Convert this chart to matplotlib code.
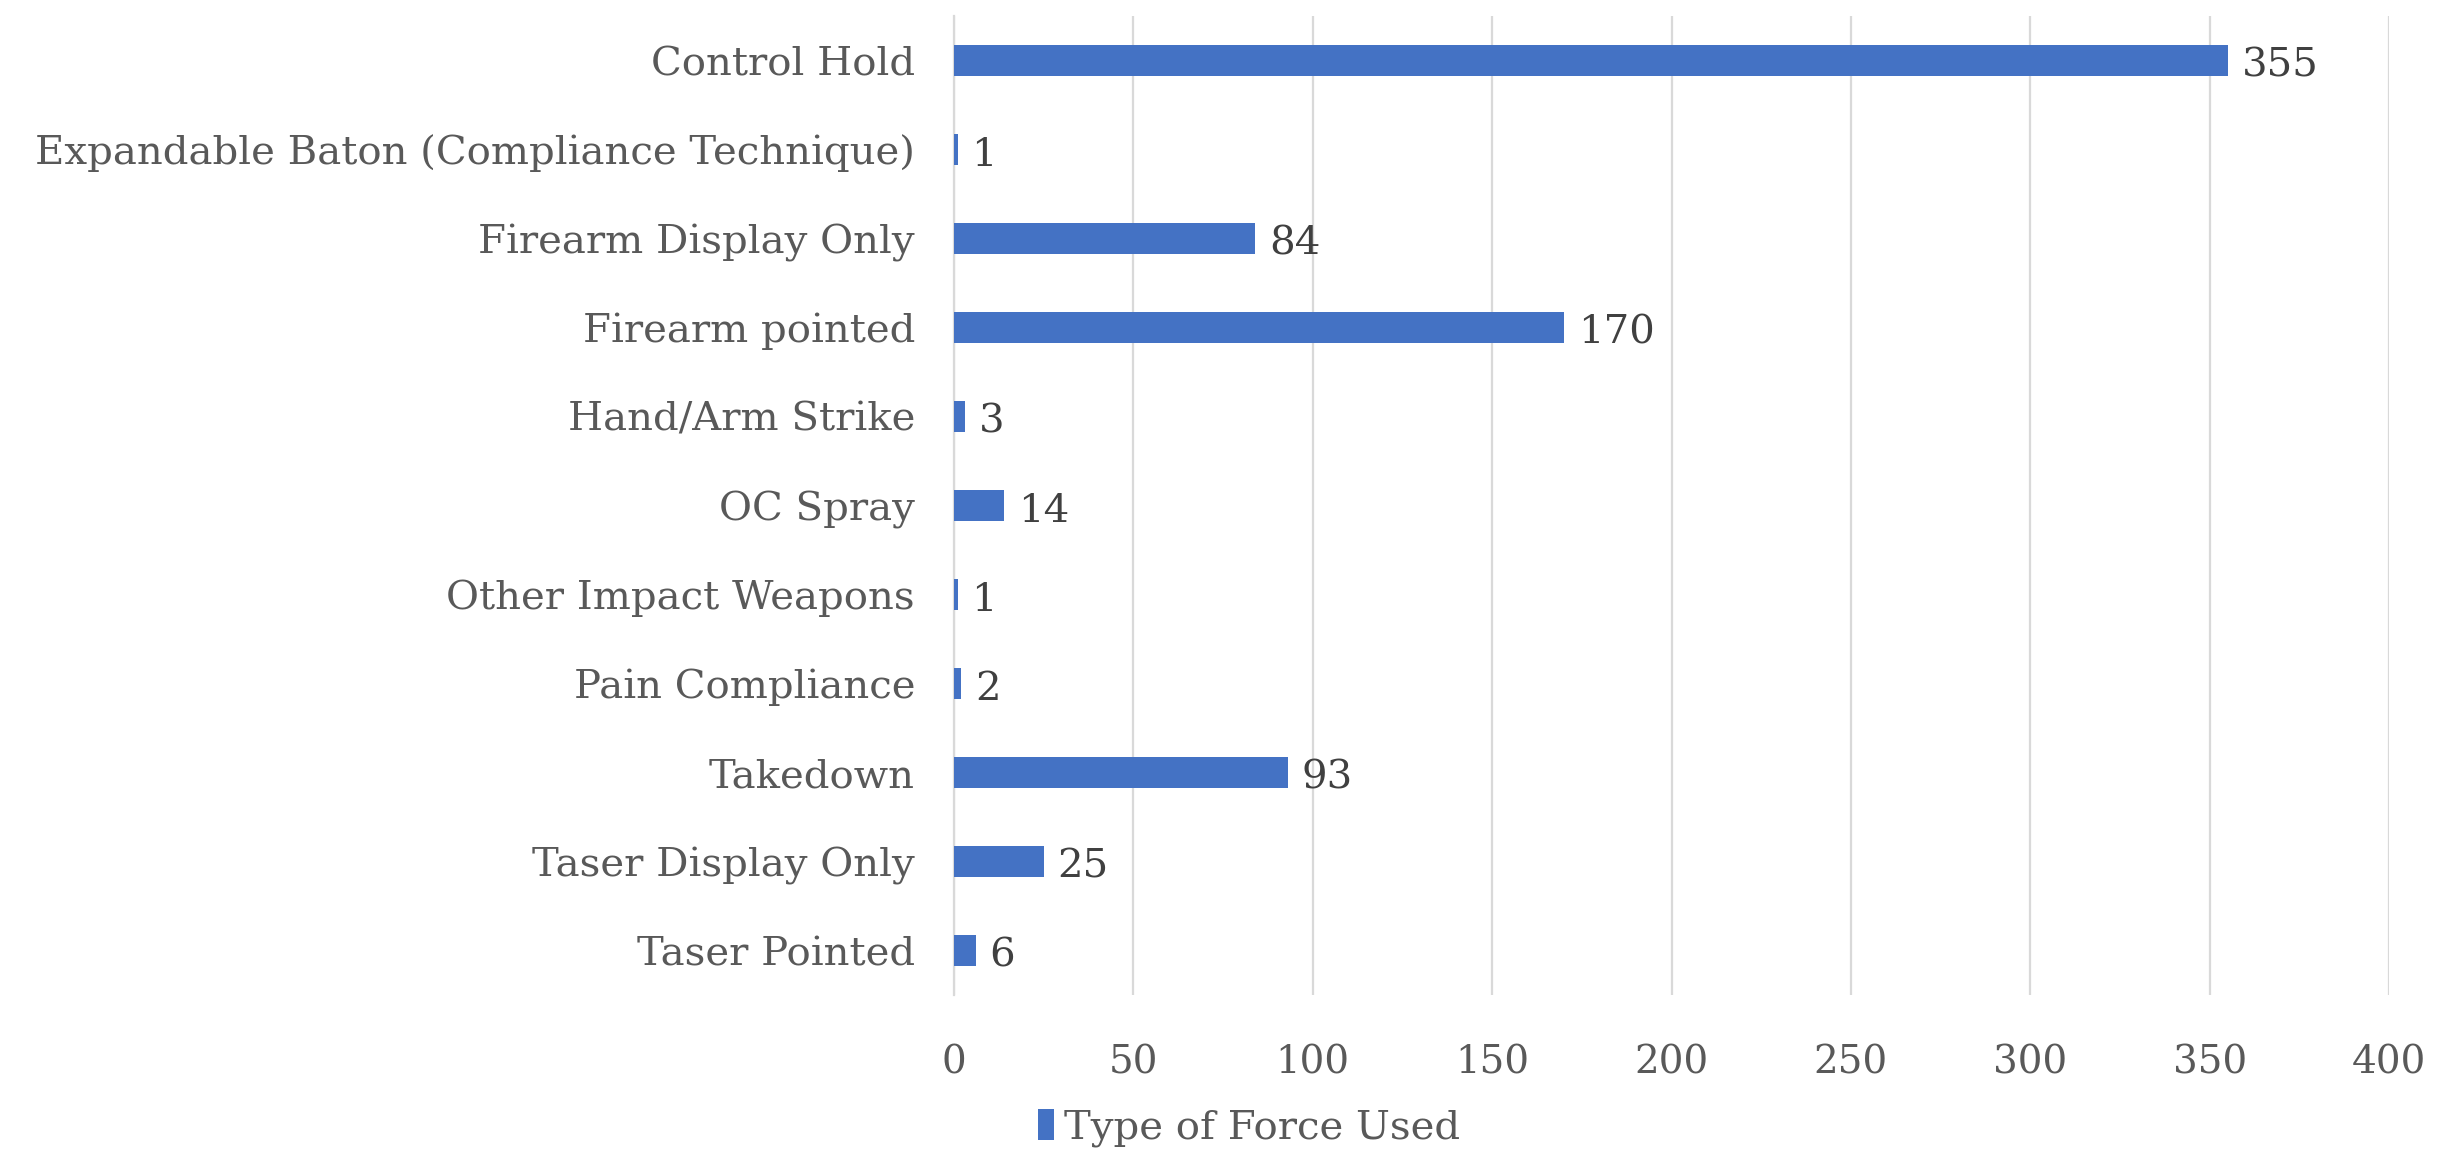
import matplotlib
matplotlib.use("Agg")
import matplotlib.pyplot as plt
from matplotlib.patches import Patch

categories = ["Control Hold", "Expandable Baton (Compliance Technique)", "Firearm Display Only",
              "Firearm pointed", "Hand/Arm Strike", "OC Spray", "Other Impact Weapons",
              "Pain Compliance", "Takedown", "Taser Display Only", "Taser Pointed"]
values = [355, 1, 84, 170, 3, 14, 1, 2, 93, 25, 6]
xticks = [0, 50, 100, 150, 200, 250, 300, 350, 400]
series_name = "Type of Force Used"

W, H = 2440, 1151
fig = plt.figure(figsize=(W / 100, H / 100), dpi=100)
left, right, top, bottom = 954, 2389, 16, 995
ax = fig.add_axes([left / W, 1 - bottom / H, (right - left) / W, (bottom - top) / H])

font = "DejaVu Serif"
bar_color = "#4472C4"
n = len(categories)
ypos = list(range(n))
ax.barh(ypos, values, height=0.355, color=bar_color, zorder=3)
ax.set_ylim(n - 0.5, -0.5)
ax.set_xlim(0, 400)
ax.set_xticks(xticks)
ax.set_xticklabels([str(t) for t in xticks], fontfamily=font, fontsize=28, color="#595959")
ax.set_yticks(ypos)
ax.set_yticklabels(categories, fontfamily=font, fontsize=29, color="#595959")
ax.tick_params(axis="both", length=0)
ax.tick_params(axis="x", pad=36)
ax.tick_params(axis="y", pad=28)
ax.grid(axis="x", color="#D9D9D9", linewidth=1.6, zorder=0)
for s in ["top", "right", "bottom"]:
    ax.spines[s].set_visible(False)
ax.spines["left"].set_color("#D9D9D9")
ax.spines["left"].set_linewidth(1.6)

for y, v in zip(ypos, values):
    ax.annotate(str(v), (v, y), xytext=(10, -4), textcoords="offset points",
                ha="left", va="center", fontfamily=font, fontsize=29, color="#404040")

handle = Patch(facecolor=bar_color, edgecolor="none")
fig.legend([handle], [series_name], loc="center", bbox_to_anchor=(0.512, 1 - 1128 / H),
           frameon=False, prop={"family": font, "size": 29}, labelcolor="#595959",
           handlelength=0.4, handleheight=0.8, handletextpad=0.25)

fig.savefig("out.png", dpi=100, facecolor="white")
